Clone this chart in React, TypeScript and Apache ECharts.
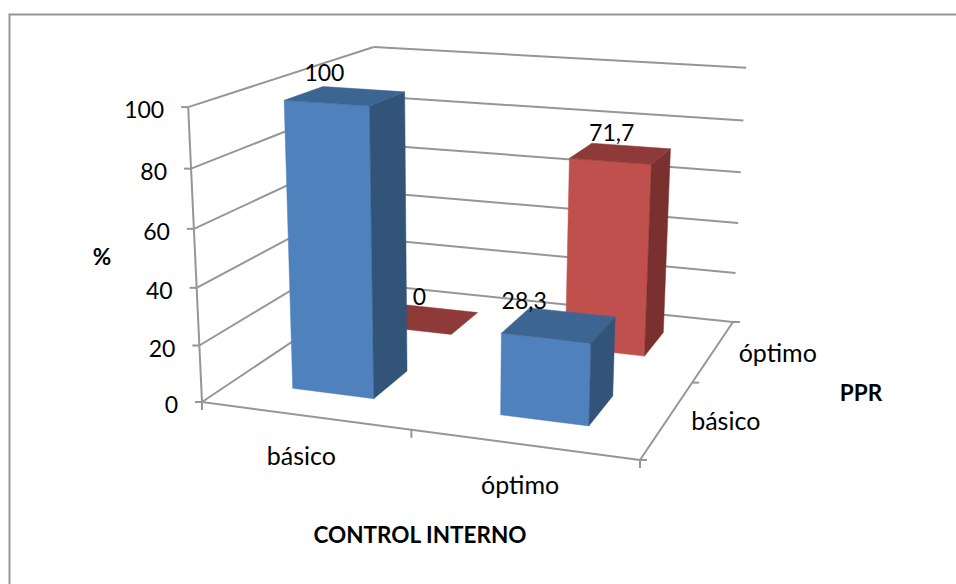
import React, { useEffect, useRef } from "react";
import * as echarts from "echarts";

// Chart contents
const controlCategories = ["básico", "óptimo"];
const pprCategories = ["básico", "óptimo"];
const pprBasico = [100, 28.3];
const pprOptimo = [0, 71.7];
const valueTicks = [0, 20, 40, 60, 80, 100];

const FONT = "Lato, Carlito, 'Open Sans', sans-serif";
const TEXT = "#000000";
const AXIS = "#969696";
const BLUE = { front: "#4f81bd", side: "#335479", top: "#3d6592" };
const RED = { front: "#c0504d", side: "#7a302e", top: "#8e3a38" };

const NUMBER_SIZE = 23;
const WORD_SIZE = 25;
const TITLE_SIZE = 22.5;

// Hidden cartesian scale: its unit square feeds the 3D projection below.
const SCALE = 400;
const BAR_SHARE = 0.4;

// Box corners on screen that calibrate the projection (u, depth, value all in 0..1).
const FLOOR = { a: [202, 402], b: [640, 460], c: [733, 322], d: [377, 285] };
const WALL_TOP = [
  { u: 0, d: 0, at: [188, 108] },
  { u: 0, d: 1, at: [374, 47] },
  { u: 1, d: 1, at: [746, 67] },
];

function buildProjection() {
  const [x0, y0] = FLOOR.a;
  const [x1, y1] = FLOOR.b;
  const [x2, y2] = FLOOR.c;
  const [x3, y3] = FLOOR.d;
  const dx1 = x1 - x2, dx2 = x3 - x2, sx = x0 - x1 + x2 - x3;
  const dy1 = y1 - y2, dy2 = y3 - y2, sy = y0 - y1 + y2 - y3;
  const den = dx1 * dy2 - dx2 * dy1;
  const g = (sx * dy2 - dx2 * sy) / den;
  const h = (dx1 * sy - sx * dy1) / den;
  const a = x1 - x0 + g * x1, b = x3 - x0 + h * x3, c = x0;
  const d = y1 - y0 + g * y1, e = y3 - y0 + h * y3, f = y0;

  // Least squares for the vertical column of the camera matrix.
  const rows: number[][] = [];
  const rhs: number[] = [];
  WALL_TOP.forEach(({ u, d: dep, at: [X, Y] }) => {
    const w = g * u + h * dep + 1;
    rows.push([1, 0, -X]);
    rhs.push(X * w - (a * u + b * dep + c));
    rows.push([0, 1, -Y]);
    rhs.push(Y * w - (d * u + e * dep + f));
  });
  const m = [0, 1, 2].map((i) =>
    [0, 1, 2].map((j) => rows.reduce((s, r) => s + r[i] * r[j], 0)).concat(
      rows.reduce((s, r, k) => s + r[i] * rhs[k], 0)
    )
  );
  for (let i = 0; i < 3; i++) {
    let best = i;
    for (let k = i + 1; k < 3; k++) if (Math.abs(m[k][i]) > Math.abs(m[best][i])) best = k;
    [m[i], m[best]] = [m[best], m[i]];
    for (let k = 0; k < 3; k++) {
      if (k === i) continue;
      const t = m[k][i] / m[i][i];
      for (let j = i; j < 4; j++) m[k][j] -= t * m[i][j];
    }
  }
  const p = m[0][3] / m[0][0], q = m[1][3] / m[1][1], r = m[2][3] / m[2][2];
  return (u: number, dep: number, v: number): number[] => {
    const w = g * u + h * dep + r * v + 1;
    return [(a * u + b * dep + p * v + c) / w, (d * u + e * dep + q * v + f) / w];
  };
}
const project = buildProjection();

const polygon = (points: number[][], fill: string) => ({
  type: "polygon",
  shape: { points },
  style: { fill, stroke: fill, lineWidth: 0.5 },
});
const segment = (p: number[], q: number[]) => ({
  type: "line",
  shape: { x1: p[0], y1: p[1], x2: q[0], y2: q[1] },
  style: { stroke: AXIS, lineWidth: 2, fill: "none" },
});
const label = (x: number, y: number, text: string, align = "center", bold = false, size = NUMBER_SIZE) => ({
  type: "text",
  x,
  y,
  style: {
    text,
    fill: TEXT,
    font: `${bold ? "bold " : ""}${size}px ${FONT}`,
    align,
    verticalAlign: "middle",
  },
});

// One 3D column for each data item; depth is the PPR row of the series.
const barRenderer =
  (depthIndex: number, colors: typeof BLUE) => (_params: any, api: any) => {
    const c = api.coord([api.value(0), api.value(1)]);
    const band = api.size([1, 0])[0] / SCALE;
    const uc = c[0] / SCALE;
    const v = 1 - c[1] / SCALE;
    const half = (band * BAR_SHARE) / 2;
    const dc = (depthIndex + 0.5) / pprCategories.length;
    const u0 = uc - half, u1 = uc + half;
    const d0 = dc - half, d1 = dc + half;
    const children: any[] = [];
    if (v > 0) {
      children.push(
        polygon([project(u0, d0, 0), project(u1, d0, 0), project(u1, d0, v), project(u0, d0, v)], colors.front),
        polygon([project(u1, d0, 0), project(u1, d1, 0), project(u1, d1, v), project(u1, d0, v)], colors.side)
      );
    }
    children.push(
      polygon([project(u0, d0, v), project(u1, d0, v), project(u1, d1, v), project(u0, d1, v)], colors.top)
    );
    return { type: "group", children };
  };

// Value labels sit just above each column's top, with the comma decimal mark.
const labelShifts = [
  [[-21, -24], [-35, -25]],
  [[-9, -23], [-9, -22]],
];
const labelRenderer = (depthIndex: number) => (_params: any, api: any) => {
  const cat = api.value(0);
  const value = api.value(1);
  const c = api.coord([cat, value]);
  const dc = (depthIndex + 0.5) / pprCategories.length;
  const top = project(c[0] / SCALE, dc, 1 - c[1] / SCALE);
  const shift = labelShifts[depthIndex][cat];
  return label(top[0] + shift[0], top[1] + shift[1], String(value).replace(".", ","));
};

// Walls, floor edges, ticks and their labels.
const frameRenderer = (params: any, api: any) => {
  const c = api.coord([0, api.value(1)]);
  const v = 1 - c[1] / SCALE;
  const front = project(0, 0, v);
  const back = project(0, 1, v);
  const right = project(1, 1, v);
  const children: any[] = [
    segment(front, back),
    segment(back, right),
    segment(front, [front[0] - 7, front[1]]),
    label(front[0] - 24, front[1] + 2, String(api.value(1)), "right"),
  ];
  if (params.dataIndex > 0) {
    const below = project(0, 0, v - api.size([0, 20])[1] / SCALE);
    children.push(segment(below, front));
  }
  return { type: "group", children };
};

const depthLabelShift = [58, 64];
const floorRenderer = () => {
  const a = project(0, 0, 0);
  const b = project(1, 0, 0);
  const c = project(1, 1, 0);
  const children: any[] = [segment(a, b), segment(b, c)];
  [0, 0.5, 1].forEach((t) => {
    const p = project(t, 0, 0);
    children.push(segment(p, [p[0], p[1] + 8]));
    const q = project(1, t, 0);
    children.push(segment(q, [q[0] + 7, q[1]]));
  });
  controlCategories.forEach((name, i) => {
    const p = project((i + 0.5) / controlCategories.length, 0, 0);
    children.push(label(p[0] - 3, p[1] + 39, name, "center", false, WORD_SIZE));
  });
  pprCategories.forEach((name, i) => {
    const p = project(1, (i + 0.5) / pprCategories.length, 0);
    children.push(label(p[0] + depthLabelShift[i], p[1] + 1, name, "center", false, WORD_SIZE));
  });
  return { type: "group", children };
};

const pairs = (values: number[]) => values.map((v, i) => [i, v]);

export default function App() {
  const ref = useRef<HTMLDivElement>(null);
  useEffect(() => {
    const chart = echarts.init(ref.current!, undefined, { renderer: "svg" });
    chart.setOption({
      animation: false,
      backgroundColor: "#ffffff",
      grid: { left: 0, top: 0, width: SCALE, height: SCALE },
      xAxis: { type: "category", data: controlCategories, show: false },
      yAxis: { type: "value", min: 0, max: 100, interval: 20, show: false },
      graphic: [
        {
          type: "polyline",
          shape: { points: [[9.5, 584], [9.5, 14.5], [956, 14.5]] },
          style: { stroke: AXIS, lineWidth: 2, fill: "none" },
        },
        { ...label(102, 256, "%", "center", true, TITLE_SIZE) },
        { ...label(420, 534, "CONTROL INTERNO", "center", true, TITLE_SIZE) },
        { ...label(861, 392, "PPR", "center", true, TITLE_SIZE) },
      ],
      series: [
        {
          type: "custom",
          clip: false,
          renderItem: frameRenderer,
          data: valueTicks.map((t) => [0, t]),
          encode: { x: 0, y: 1 },
          z: 1,
        },
        { type: "custom", clip: false, renderItem: floorRenderer, data: [[0, 0]], encode: { x: 0, y: 1 }, z: 1 },
        {
          type: "custom",
          clip: false,
          renderItem: barRenderer(1, RED),
          data: pairs(pprOptimo),
          encode: { x: 0, y: 1 },
          z: 2,
        },
        {
          type: "custom",
          clip: false,
          renderItem: barRenderer(0, BLUE),
          data: pairs(pprBasico),
          encode: { x: 0, y: 1 },
          z: 3,
        },
        {
          type: "custom",
          clip: false,
          renderItem: labelRenderer(1),
          data: pairs(pprOptimo),
          encode: { x: 0, y: 1 },
          z: 4,
        },
        {
          type: "custom",
          clip: false,
          renderItem: labelRenderer(0),
          data: pairs(pprBasico),
          encode: { x: 0, y: 1 },
          z: 4,
        },
      ],
    });
    return () => chart.dispose();
  }, []);
  return (
    <div
      ref={ref}
      style={{ position: "fixed", left: 0, top: 0, width: 956, height: 584, background: "#fff" }}
    />
  );
}
